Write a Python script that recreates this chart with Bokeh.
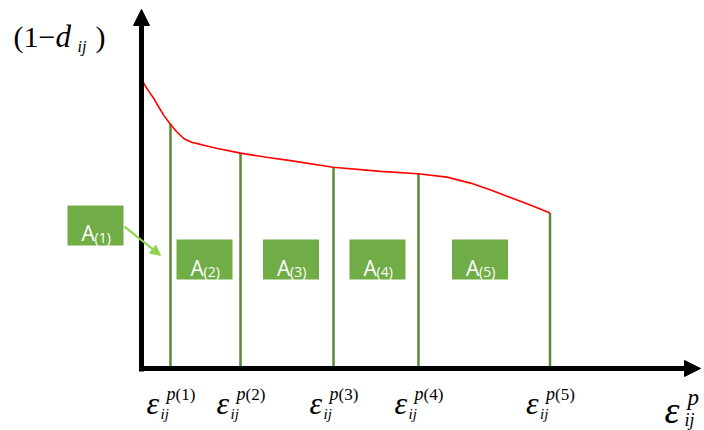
from bokeh.plotting import figure
from bokeh.models import Range1d, Arrow, NormalHead, ColumnDataSource
from bokeh.core.properties import value
from bokeh.embed import file_html
from bokeh.resources import INLINE

# ---- data (conceptual integrity curve 1-d vs plastic strain) ----
curve_strain = [0.01, 0.13, 0.25, 0.35, 0.45, 0.57, 0.70, 0.85, 1.00, 1.18, 1.50, 1.98, 2.50, 2.98, 3.83,
                4.78, 5.53, 6.11, 6.58, 7.00, 7.38, 7.80, 8.17]
curve_integrity = [0.960, 0.928, 0.899, 0.870, 0.843, 0.816, 0.790, 0.766, 0.754, 0.747, 0.734, 0.718, 0.704,
                   0.693, 0.671, 0.657, 0.649, 0.638, 0.618, 0.594, 0.570, 0.543, 0.518]
eps_points = [0.58, 1.98, 3.84, 5.54, 8.17]
integrity_points = [0.816, 0.718, 0.671, 0.649, 0.518]
tick_index = ["(1)", "(2)", "(3)", "(4)", "(5)"]
area_labels = ["(1)", "(2)", "(3)", "(4)", "(5)"]
area_x = [-0.92, 1.26, 2.99, 4.72, 6.77]
area_y = [0.477, 0.363, 0.363, 0.363, 0.363]
x_axis_end = 11.18
y_axis_end = 1.197

W, H = 704, 430
p = figure(width=W, height=H, output_backend="svg", toolbar_location=None,
           x_range=Range1d(-2.82, 11.26), y_range=Range1d(-0.2067, 1.2267),
           x_axis_type=None, y_axis_type=None, min_border=0)
p.grid.visible = False
p.outline_line_color = None
p.background_fill_color = "white"
p.border_fill_color = "white"

serif = value("Liberation Serif")
sans = value("Open Sans")

# axes with arrow heads
p.add_layout(Arrow(x_start=0, y_start=-0.01, x_end=0, y_end=y_axis_end, line_width=5, line_color="black",
                   end=NormalHead(size=16, fill_color="black", line_color="black")))
p.add_layout(Arrow(x_start=-0.04, y_start=0, x_end=x_axis_end, y_end=0, line_width=5, line_color="black",
                   end=NormalHead(size=16, fill_color="black", line_color="black")))

# vertical strain lines
p.segment(x0=eps_points, y0=[0] * 5, x1=eps_points, y1=integrity_points, line_color="#5B8A37", line_width=2.5)

# red curve
p.line(curve_strain, curve_integrity, line_color="#FF0000", line_width=1.6)

# area boxes
box_src = ColumnDataSource(dict(x=area_x, y=area_y, sub=area_labels, a=["A"] * 5))
p.rect(x="x", y="y", width=56, height=40, width_units="screen", height_units="screen",
       fill_color="#70AD47", line_color=None, source=box_src)
p.text(x="x", y="y", text="a", x_offset=-14, y_offset=8, text_font=sans, text_font_size="21px",
       text_color="white", text_baseline="alphabetic", text_align="left", source=box_src)
p.text(x="x", y="y", text="sub", x_offset=-1, y_offset=12, text_font=sans, text_font_size="14px",
       text_color="white", text_baseline="alphabetic", text_align="left", source=box_src)

# pointer arrow from A(1)
p.add_layout(Arrow(x_start=-0.34, y_start=0.473, x_end=0.38, y_end=0.377, line_width=2, line_color="#92D050",
                   end=NormalHead(size=10, fill_color="#92D050", line_color="#92D050")))

# tick labels  eps_ij^{p(k)}
tk = ColumnDataSource(dict(x=eps_points, y=[0] * 5, eps=["ε"] * 5, p=["p"] * 5, k=tick_index, ij=["ij"] * 5))
p.text(x="x", y="y", text="eps", x_offset=-24, y_offset=35, text_font=serif, text_font_size="32px",
       text_font_style="italic", text_baseline="alphabetic", text_align="left", text_color="black", source=tk)
p.text(x="x", y="y", text="p", x_offset=-4, y_offset=26, text_font=serif, text_font_size="18px",
       text_font_style="italic", text_baseline="alphabetic", text_align="left", text_color="black", source=tk)
p.text(x="x", y="y", text="k", x_offset=5, y_offset=26, text_font=serif, text_font_size="17px",
       text_baseline="alphabetic", text_align="left", text_color="black", source=tk)
p.text(x="x", y="y", text="ij", x_offset=-10, y_offset=46, text_font=serif, text_font_size="15px",
       text_font_style="italic", text_baseline="alphabetic", text_align="left", text_color="black", source=tk)

# x axis title
p.text(x=[x_axis_end], y=[0], text=["ε"], x_offset=-36, y_offset=42, text_font=serif, text_font_size="38px",
       text_font_style="italic", text_baseline="alphabetic", text_align="left", text_color="black")
p.text(x=[x_axis_end], y=[0], text=["p"], x_offset=-13, y_offset=29, text_font=serif, text_font_size="23px",
       text_font_style="italic", text_baseline="alphabetic", text_align="left", text_color="black")
p.text(x=[x_axis_end], y=[0], text=["ij"], x_offset=-16, y_offset=52, text_font=serif, text_font_size="18px",
       text_font_style="italic", text_baseline="alphabetic", text_align="left", text_color="black")

# y axis title (1 - d_ij)
p.text(x=[0], y=[y_axis_end], text=["(1−"], x_offset=-128, y_offset=27, text_font=serif, text_font_size="30px",
       text_baseline="alphabetic", text_align="left", text_color="black")
p.text(x=[0], y=[y_axis_end], text=["d"], x_offset=-86, y_offset=27, text_font=serif, text_font_size="31px",
       text_font_style="italic", text_baseline="alphabetic", text_align="left", text_color="black")
p.text(x=[0], y=[y_axis_end], text=["ij"], x_offset=-64, y_offset=37, text_font=serif, text_font_size="16px",
       text_font_style="italic", text_baseline="alphabetic", text_align="left", text_color="black")
p.text(x=[0], y=[y_axis_end], text=[")"], x_offset=-46, y_offset=27, text_font=serif, text_font_size="30px",
       text_baseline="alphabetic", text_align="left", text_color="black")

open("out.html", "w").write(file_html(p, INLINE))
